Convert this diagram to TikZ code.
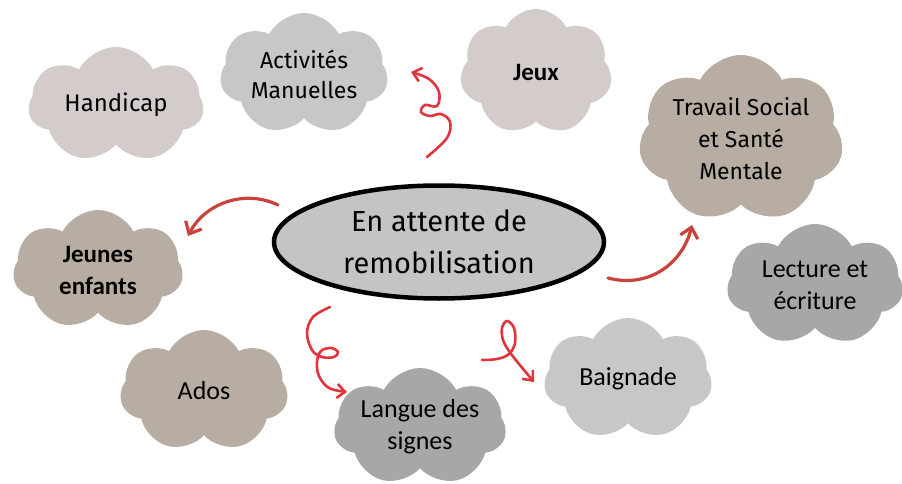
\documentclass[tikz,border=0pt]{standalone}
\usepackage{fontspec}
\setmainfont{Carlito}
\newfontfamily\firafont{Fira Sans}
\usepackage{tikz}
\usetikzlibrary{shapes.symbols,shapes.geometric,arrows.meta}
\definecolor{cloudpale}{HTML}{D3CCCA}
\definecolor{cloudlight}{HTML}{C7C7C7}
\definecolor{cloudtaupe}{HTML}{B8ADA2}
\definecolor{clouddark}{HTML}{A7A7A7}
\definecolor{hubgrey}{HTML}{C4C4C4}
\definecolor{curlyred}{HTML}{E0353D}
\definecolor{brickred}{HTML}{C9423B}
\tikzstyle{cloudbox} = [cloud, cloud puffs=7, cloud puff arc=125, cloud ignores aspect, inner sep=0pt, align=center, font=\fontsize{26}{32}\selectfont]
\tikzstyle{hub} = [ellipse, draw=black, line width=4.5pt, fill=hubgrey, minimum width=330pt, minimum height=113pt, align=center, font=\firafont\fontsize{29}{42}\selectfont]
\tikzstyle{curly} = [draw=curlyred, line width=2.6pt, line cap=round, -{Straight Barb[length=8pt,width=14pt,line width=2.6pt]}]
\tikzstyle{sweep} = [draw=brickred, line width=3.2pt, line cap=round, -{Straight Barb[length=10pt,width=18pt,line width=3.2pt]}]

\begin{document}
\begin{tikzpicture}[x=1pt, y=-1pt]
    \useasboundingbox (0,0) rectangle (902,484);

    \node [cloudbox, fill=cloudpale, minimum width=175pt, minimum height=116pt, font=\firafont\fontsize{24}{30}\selectfont] (handicap) at (116,105) {Handicap};
    \node [cloudbox, fill=cloudlight, minimum width=168pt, minimum height=122pt, font=\firafont\fontsize{23}{30}\selectfont] (manuelles) at (304,74) {Activités\\Manuelles};
    \node [cloudbox, fill=cloudpale, minimum width=152pt, minimum height=126pt, font=\bfseries\fontsize{25}{31}\selectfont] (jeux) at (536,72) {Jeux};
    \node [cloudbox, fill=cloudtaupe, minimum width=188pt, minimum height=168pt, font=\firafont\fontsize{23}{32}\selectfont] (travail) at (741,139) {Travail Social\\et Santé\\Mentale};
    \node [cloudbox, fill=clouddark, minimum width=176pt, minimum height=122pt] (lecture) at (815,285) {Lecture et\\écriture};
    \node [cloudbox, fill=cloudlight, minimum width=168pt, minimum height=122pt] (baignade) at (628,379) {Baignade};
    \node [cloudbox, fill=clouddark, minimum width=172pt, minimum height=118pt] (langue) at (420,427) {Langue des\\signes};
    \node [cloudbox, fill=cloudtaupe, minimum width=168pt, minimum height=122pt] (ados) at (204,391) {Ados};
    \node [cloudbox, fill=cloudtaupe, minimum width=170pt, minimum height=120pt, font=\bfseries\fontsize{25}{32}\selectfont] (jeunes) at (98,270) {Jeunes\\enfants};

    \node [hub] (hub) at (439,242) {En attente de\\remobilisation};

    \coordinate (manuellesfrom) at (427,157);
    \coordinate (manuellesto) at (411,72);
    \coordinate (languefrom) at (330,307);
    \coordinate (langueto) at (347,392);
    \coordinate (baignadefrom) at (482,360);
    \coordinate (baignadeto) at (534,382);
    \coordinate (jeunesfrom) at (278,205);
    \coordinate (jeunesto) at (188,236);
    \coordinate (travailfrom) at (608,278);
    \coordinate (travailto) at (692,225);

    \draw [curly] plot [smooth, tension=0.6] coordinates {(manuellesfrom) (447,138) (450,122) (441,114) (430,116) (421,112) (425,105) (437,106) (439,92) (429,79) (manuellesto)};
    \draw [curly] plot [smooth, tension=0.6] coordinates {(languefrom) (313,317) (307,333) (312,350) (322,357) (334,357) (338,352) (331,348) (321,351) (317,362) (319,376) (329,388) (langueto)};
    \draw [curly] plot [smooth, tension=0.6] coordinates {(baignadefrom) (497,359) (509,354) (515,343) (514,328) (507,321) (502,328) (503,340) (509,351) (519,364) (baignadeto)};
    \draw [sweep] (jeunesfrom) .. controls (245,189) and (205,203) .. (jeunesto);
    \draw [sweep] (travailfrom) .. controls (650,289) and (683,262) .. (travailto);
\end{tikzpicture}
\end{document}
